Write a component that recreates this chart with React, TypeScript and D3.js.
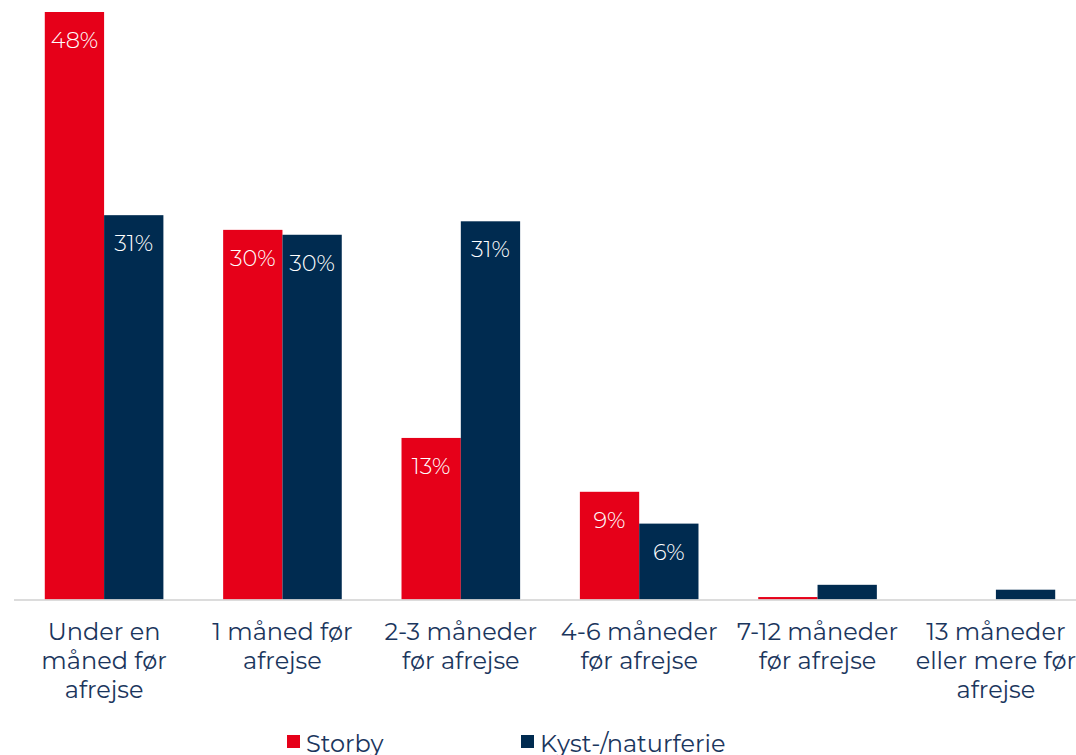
import React, { useEffect, useRef } from 'react'
import * as d3 from 'd3'

const categories = [
    'Under en\nmåned før\nafrejse',
    '1 måned før\nafrejse',
    '2-3 måneder\nfør afrejse',
    '4-6 måneder\nfør afrejse',
    '7-12 måneder\nfør afrejse',
    '13 måneder\neller mere før\nafrejse',
]
const seriesNames = ['Storby', 'Kyst-/naturferie']
const storby = [48, 30.2, 13.2, 8.8, 0.2, 0]
const kyst = [31.4, 29.8, 30.9, 6.2, 1.2, 0.8]
const colors = ['#e60019', '#002b50']

const WIDTH = 1076
const HEIGHT = 755
const FONT = 'Montserrat, "DejaVu Sans", sans-serif'

const App = () => {
    const ref = useRef<SVGSVGElement>(null)

    useEffect(() => {
        document.body.style.margin = '0'
        const svg = d3.select(ref.current)
        svg.selectAll('*').remove()

        // Scales
        const x = d3.scaleBand().domain(categories).range([15, 1085]).paddingInner(0.335).paddingOuter(0.167)
        const inner = d3.scaleBand().domain(seriesNames).range([0, x.bandwidth()])
        const y = d3.scaleLinear().domain([0, 48]).range([599.5, 12])

        const series = [storby, kyst]

        // Bars
        series.forEach((values, si) => {
            const g = svg.append('g')
            g.selectAll('rect')
                .data(values)
                .join('rect')
                .attr('x', (_, i) => (x(categories[i]) as number) + (inner(seriesNames[si]) as number))
                .attr('y', d => y(d))
                .attr('width', inner.bandwidth())
                .attr('height', d => y(0) - y(d))
                .attr('fill', colors[si])

            // Value labels
            g.selectAll('text')
                .data(values.map((d, i) => ({ d, i })).filter(({ d }) => d >= 5))
                .join('text')
                .attr('x', ({ i }) => (x(categories[i]) as number) + (inner(seriesNames[si]) as number) + inner.bandwidth() / 2)
                .attr('y', ({ d }) => y(d) + 36)
                .attr('text-anchor', 'middle')
                .attr('fill', '#ffffff')
                .style('font-family', FONT)
                .style('font-size', '22.5px')
                .style('font-weight', 300)
                .text(({ d }) => `${Math.round(d)}%`)
        })

        // Axis line
        svg.append('line')
            .attr('x1', 14)
            .attr('x2', WIDTH)
            .attr('y1', y(0) + 0.5)
            .attr('y2', y(0) + 0.5)
            .attr('stroke', '#d0d0d0')
            .attr('stroke-width', 1.5)

        // Category labels
        const labels = svg.append('g')
        categories.forEach(c => {
            const t = labels.append('text')
                .attr('text-anchor', 'middle')
                .attr('fill', '#1b365d')
                .style('font-family', FONT)
                .style('font-size', '24px')
            c.split('\n').forEach((line, li) => {
                t.append('tspan')
                    .attr('x', (x(c) as number) + x.bandwidth() / 2)
                    .attr('y', 640 + li * 29)
                    .text(line)
            })
        })

        // Legend
        const legendX = [287, 521]
        seriesNames.forEach((name, si) => {
            const g = svg.append('g').attr('transform', `translate(${legendX[si]},735)`)
            g.append('rect').attr('width', 13).attr('height', 13).attr('fill', colors[si])
            g.append('text')
                .attr('x', 19)
                .attr('y', 16.5)
                .attr('fill', '#1b365d')
                .style('font-family', FONT)
                .style('font-size', '24px')
                .text(name)
        })
    }, [])

    return <svg ref={ref} width={WIDTH} height={HEIGHT} style={{ display: 'block' }} />
}

export default App
